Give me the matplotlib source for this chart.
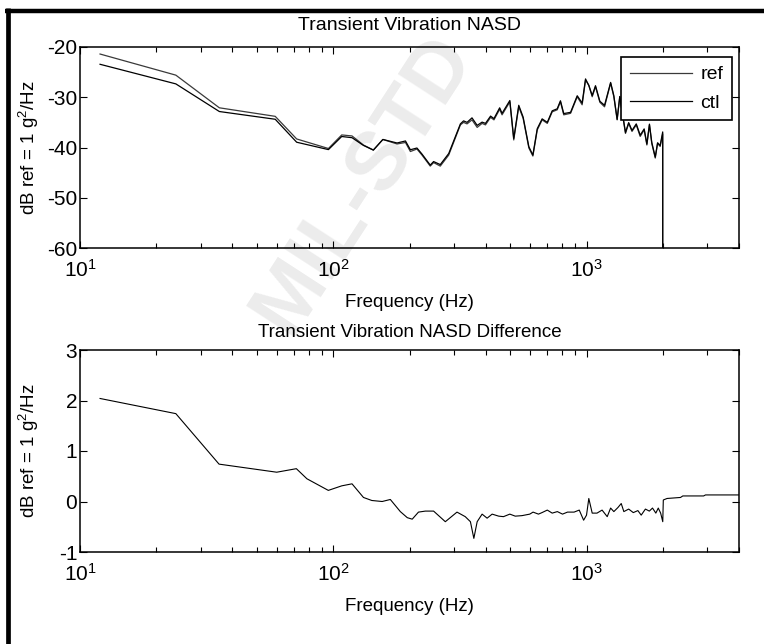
import numpy as np
import matplotlib.pyplot as plt
from matplotlib.lines import Line2D

plt.rcParams['font.family'] = 'Liberation Sans'
plt.rcParams['mathtext.fontset'] = 'custom'
plt.rcParams['mathtext.rm'] = 'Liberation Sans'
plt.rcParams['mathtext.default'] = 'regular'
plt.rcParams['axes.unicode_minus'] = False

# NASD spectra (dB ref 1 g^2/Hz) vs frequency in Hz
freq = [12.0, 23.9, 35.5, 59, 71.7, 95.7, 108, 118.6, 131.5, 144,
        157, 178.6, 192.8, 201.6, 214, 224, 241.5, 249, 264.6, 285.7,
        317.7, 327, 337.5, 353, 370, 387, 399, 418, 431, 454,
        464, 498, 516, 540, 562, 592, 614, 639, 668, 700,
        732, 766, 789, 813, 865, 919, 961, 991, 1021, 1053,
        1085, 1129, 1178, 1245, 1282, 1321, 1353, 1425, 1467, 1512,
        1572, 1629, 1689, 1731, 1772, 1810, 1868, 1908, 1953, 1999,
        2001, 4000]
ref = [-21.4, -25.6, -32.1, -33.8, -38.3, -40.2, -37.5, -37.7, -39.5, -40.5,
       -38.4, -39.3, -39.0, -40.8, -40.3, -41.5, -43.7, -43.0, -43.7, -41.5,
       -35.5, -35.0, -35.3, -34.5, -36.0, -35.2, -35.5, -34.0, -34.5, -32.4,
       -33.5, -30.9, -38.5, -31.9, -34.2, -40.1, -41.7, -36.5, -34.5, -35.2,
       -32.9, -32.5, -30.9, -33.5, -33.2, -29.9, -31.5, -26.6, -27.6, -29.9,
       -27.9, -31.0, -31.9, -27.2, -29.9, -34.5, -29.9, -37.2, -35.2, -36.8,
       -35.5, -37.8, -36.5, -39.5, -35.5, -39.2, -42.1, -39.2, -39.8, -37.3,
       -200, -200]
ctl = [-23.44, -27.34, -32.84, -34.38, -38.95, -40.42, -37.81, -38.05, -39.58, -40.52,
       -38.4, -39.1, -38.7, -40.45, -40.1, -41.3, -43.5, -42.8, -43.4, -41.2,
       -35.3, -34.7, -35.0, -34.1, -35.6, -34.95, -35.2, -33.75, -34.25, -32.1,
       -33.2, -30.65, -38.2, -31.6, -33.95, -39.85, -41.5, -36.25, -34.3, -35.0,
       -32.7, -32.3, -30.7, -33.25, -33.0, -29.7, -31.15, -26.35, -27.65, -29.65,
       -27.7, -30.8, -31.6, -27.05, -29.7, -34.4, -29.85, -37.0, -35.05, -36.6,
       -35.3, -37.55, -36.3, -39.3, -35.35, -39.0, -41.9, -39.05, -39.6, -36.9,
       -200, -200]

# ref - ctl difference
diff_freq = [12.0, 23.9, 35.4, 59.8, 71.5, 78.7, 95.6, 108, 118.6, 131.6,
             142, 156, 168, 184, 196, 205, 217, 231, 249, 277,
             308, 332, 348, 359, 370, 387, 405, 424, 450, 470,
             498, 523, 556, 597, 615, 646, 667, 700, 732, 767,
             804, 841, 893, 936, 974, 1000, 1021, 1053, 1100, 1152,
             1207, 1245, 1282, 1330, 1371, 1404, 1467, 1530, 1595, 1644,
             1708, 1770, 1822, 1878, 1920, 1962, 2000, 2010, 2080, 2350,
             2400, 2900, 2950, 4000]
diff_db = [2.04, 1.74, 0.74, 0.58, 0.65, 0.45, 0.22, 0.31, 0.35, 0.08,
           0.02, 0.0, 0.04, -0.2, -0.32, -0.35, -0.21, -0.19, -0.19, -0.4,
           -0.21, -0.3, -0.4, -0.73, -0.4, -0.25, -0.33, -0.25, -0.29, -0.3,
           -0.25, -0.29, -0.28, -0.25, -0.21, -0.25, -0.22, -0.17, -0.23, -0.2,
           -0.25, -0.21, -0.21, -0.17, -0.37, -0.27, 0.06, -0.23, -0.23, -0.17,
           -0.3, -0.13, -0.2, -0.12, -0.04, -0.2, -0.15, -0.22, -0.18, -0.27,
           -0.15, -0.19, -0.13, -0.23, -0.13, -0.23, -0.4, 0.03, 0.06, 0.08,
           0.11, 0.11, 0.13, 0.13]

W, H = 764, 644
fig = plt.figure(figsize=(W / 100, H / 100), dpi=100)

def axes_px(left, top, right, bottom):
    return fig.add_axes([left / W, 1 - bottom / H, (right - left) / W, (bottom - top) / H])

ax1 = axes_px(80, 47, 739, 248)
ax2 = axes_px(80, 350, 739, 552)

ax1.plot(freq, ref, color='#3a3a3a', lw=0.9, label='ref')
ax1.plot(freq, ctl, color='black', lw=0.9, label='ctl')
ax2.plot(diff_freq, diff_db, color='black', lw=0.8)

for ax in (ax1, ax2):
    ax.set_xscale('log')
    ax.set_xlim(10, 4000)
    ax.tick_params(which='both', direction='in', top=True, right=True, width=0.8)
    ax.tick_params(which='major', length=5, labelsize=15)
    ax.tick_params(which='minor', length=3.5)
    ax.tick_params(axis='x', pad=8)
    ax.tick_params(axis='y', pad=2)
    for s in ax.spines.values():
        s.set_linewidth(1.1)
    ax.set_xlabel('Frequency (Hz)', fontsize=13.5, labelpad=9)
    ax.set_ylabel('dB ref = 1 g$^{2}$/Hz', fontsize=13.5)
    ax.yaxis.set_label_coords(-0.059, 0.5)

ax1.set_ylim(-60, -20)
ax1.set_yticks([-60, -50, -40, -30, -20])
ax1.set_title('Transient Vibration NASD', fontsize=14, pad=12.5)

ax2.set_ylim(-1, 3)
ax2.set_yticks([-1, 0, 1, 2, 3])
ax2.set_title('Transient Vibration NASD Difference', fontsize=13.5, pad=9.5)

leg = ax1.legend(loc='upper right', bbox_to_anchor=(0.989, 0.95), fontsize=14,
                 fancybox=False, borderaxespad=0, borderpad=0.45, labelspacing=0.55,
                 handlelength=3.2, handletextpad=0.4, framealpha=1)
leg.get_frame().set_edgecolor('black')
leg.get_frame().set_linewidth(1.2)

# heavy frame on the left and top edges
fig.add_artist(Line2D([7.5 / W, 7.5 / W], [0, 1 - 8 / H], color='black', lw=3.4,
                      transform=fig.transFigure, solid_capstyle='butt'))
fig.add_artist(Line2D([5 / W, 1], [1 - 10.5 / H, 1 - 10.5 / H], color='black', lw=3.2,
                      transform=fig.transFigure, solid_capstyle='butt'))

# diagonal watermark
fig.text(0.475, 0.715, 'MIL-STD', rotation=57, fontsize=60, fontweight='bold',
         color='black', alpha=0.08, ha='center', va='center', zorder=10)

fig.savefig('out.png', dpi=100)
